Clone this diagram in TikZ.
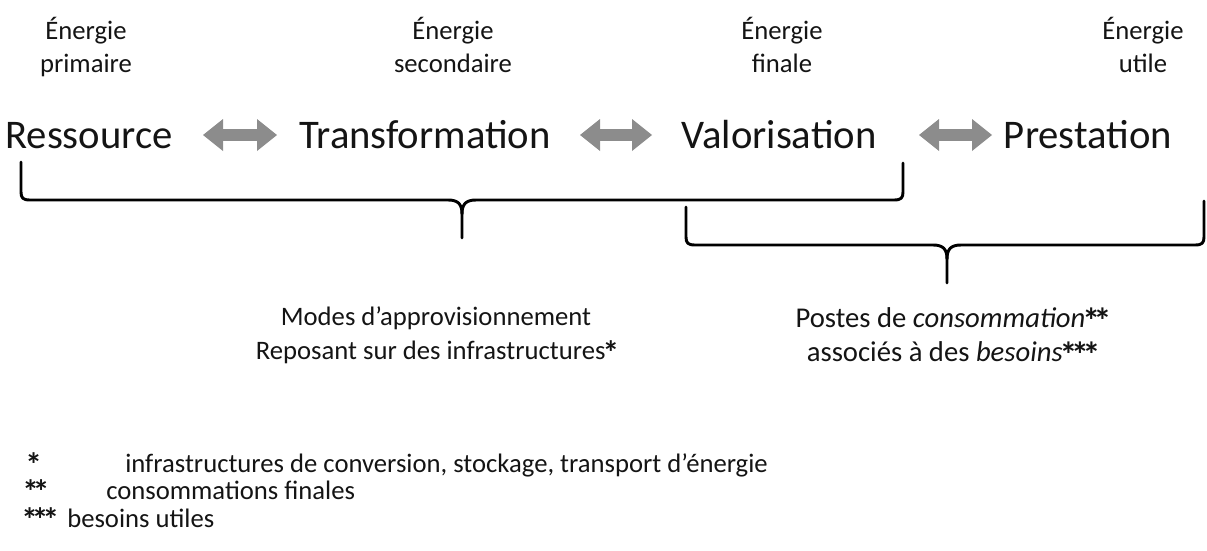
\documentclass[tikz,border=0pt]{standalone}
\usepackage{graphicx}
\usepackage{fontspec}
\setmainfont{Carlito}
\usetikzlibrary{arrows.meta}
\definecolor{arrgray}{RGB}{140,140,140}
\definecolor{txt}{RGB}{20,20,20}
\newcommand{\onestar}{\makebox[0.4em][c]{\smash{\raisebox{-0.18em}{\scalebox{1.25}{\textbf{*}}}}}}
\newcommand{\stA}{\onestar}
\newcommand{\stB}{\onestar\onestar}
\newcommand{\stC}{\onestar\onestar\onestar}
\begin{document}
\begin{tikzpicture}[x=0.75pt,y=-0.75pt,
  big/.style={font=\fontsize{30.5}{32}\selectfont, inner sep=0, anchor=base, text=txt},
  lab/.style={font=\fontsize{20}{24.5}\selectfont, align=center, inner sep=0, anchor=north, text=txt},
  small/.style={font=\fontsize{20}{25.5}\selectfont, align=center, inner sep=0, text=txt},
  foot/.style={font=\fontsize{20}{25.5}\selectfont, inner sep=0, anchor=base west, text=txt},
  tipend/.tip={Triangle[length=15pt 0 0,width=24pt 0 0,line width=0pt]},
  dblarr/.style={draw=arrgray, line width=9pt, tipend-tipend},
  brace/.style={line width=2.2pt, line cap=round, line join=round}]
\useasboundingbox (0,0) rectangle (1207,550);

% top labels
\node[lab] (e1) at (86,17) {Énergie\\primaire};
\node[lab] (e2) at (453,17) {Énergie\\secondaire};
\node[lab] (e3) at (782,17) {Énergie\\finale};
\node[lab] (e4) at (1143,17) {Énergie\\utile};

% main row
\node[big] (res) at (89,148) {Ressource};
\node[big] (tra) at (425,148) {Transformation};
\node[big] (val) at (779,148) {Valorisation};
\node[big] (pre) at (1088,148) {Prestation};

% double arrows
\coordinate (a1l) at (203,135); \coordinate (a1r) at (277,135);
\coordinate (a2l) at (580,135); \coordinate (a2r) at (652,135);
\coordinate (a3l) at (919,135); \coordinate (a3r) at (992,135);
\draw[dblarr] (a1l) -- (a1r);
\draw[dblarr] (a2l) -- (a2r);
\draw[dblarr] (a3l) -- (a3r);

% brace 1
\draw[brace] (21,162) -- (21,192) .. controls (21,198) and (23,200) .. (30,200) -- (448,200)
  .. controls (458,200) and (462,204) .. (462,214) -- (462,238);
\draw[brace] (462,214) .. controls (462,204) and (466,200) .. (476,200) -- (894,200)
  .. controls (901,200) and (903,198) .. (903,192) -- (903,163);

% brace 2
\draw[brace] (686,207) -- (686,237) .. controls (686,243) and (688,245) .. (695,245) -- (933,245)
  .. controls (943,245) and (947,249) .. (947,259) -- (947,283);
\draw[brace] (947,259) .. controls (947,249) and (951,245) .. (961,245) -- (1195,245)
  .. controls (1202,245) and (1204,243) .. (1204,237) -- (1204,201);

% texts below braces
\node[small] (modes) at (436,335) {Modes d’approvisionnement\\Reposant sur des infrastructures\stA};
\node[small, font=\fontsize{21.5}{25.5}\selectfont] (postes) at (952,335) {Postes de \textit{consommation}\stB\\associés à des \textit{besoins}\stC};

% footnotes
\node[foot] (f1s) at (28,472) {\stA};
\node[foot] (f1) at (125,472) {infrastructures de conversion, stockage, transport d’énergie};
\node[foot] (f2s) at (25,499) {\stB};
\node[foot] (f2) at (106,499) {consommations finales};
\node[foot] (f3s) at (24,527) {\stC};
\node[foot] (f3) at (67,527) {besoins utiles};
\end{tikzpicture}
\end{document}
